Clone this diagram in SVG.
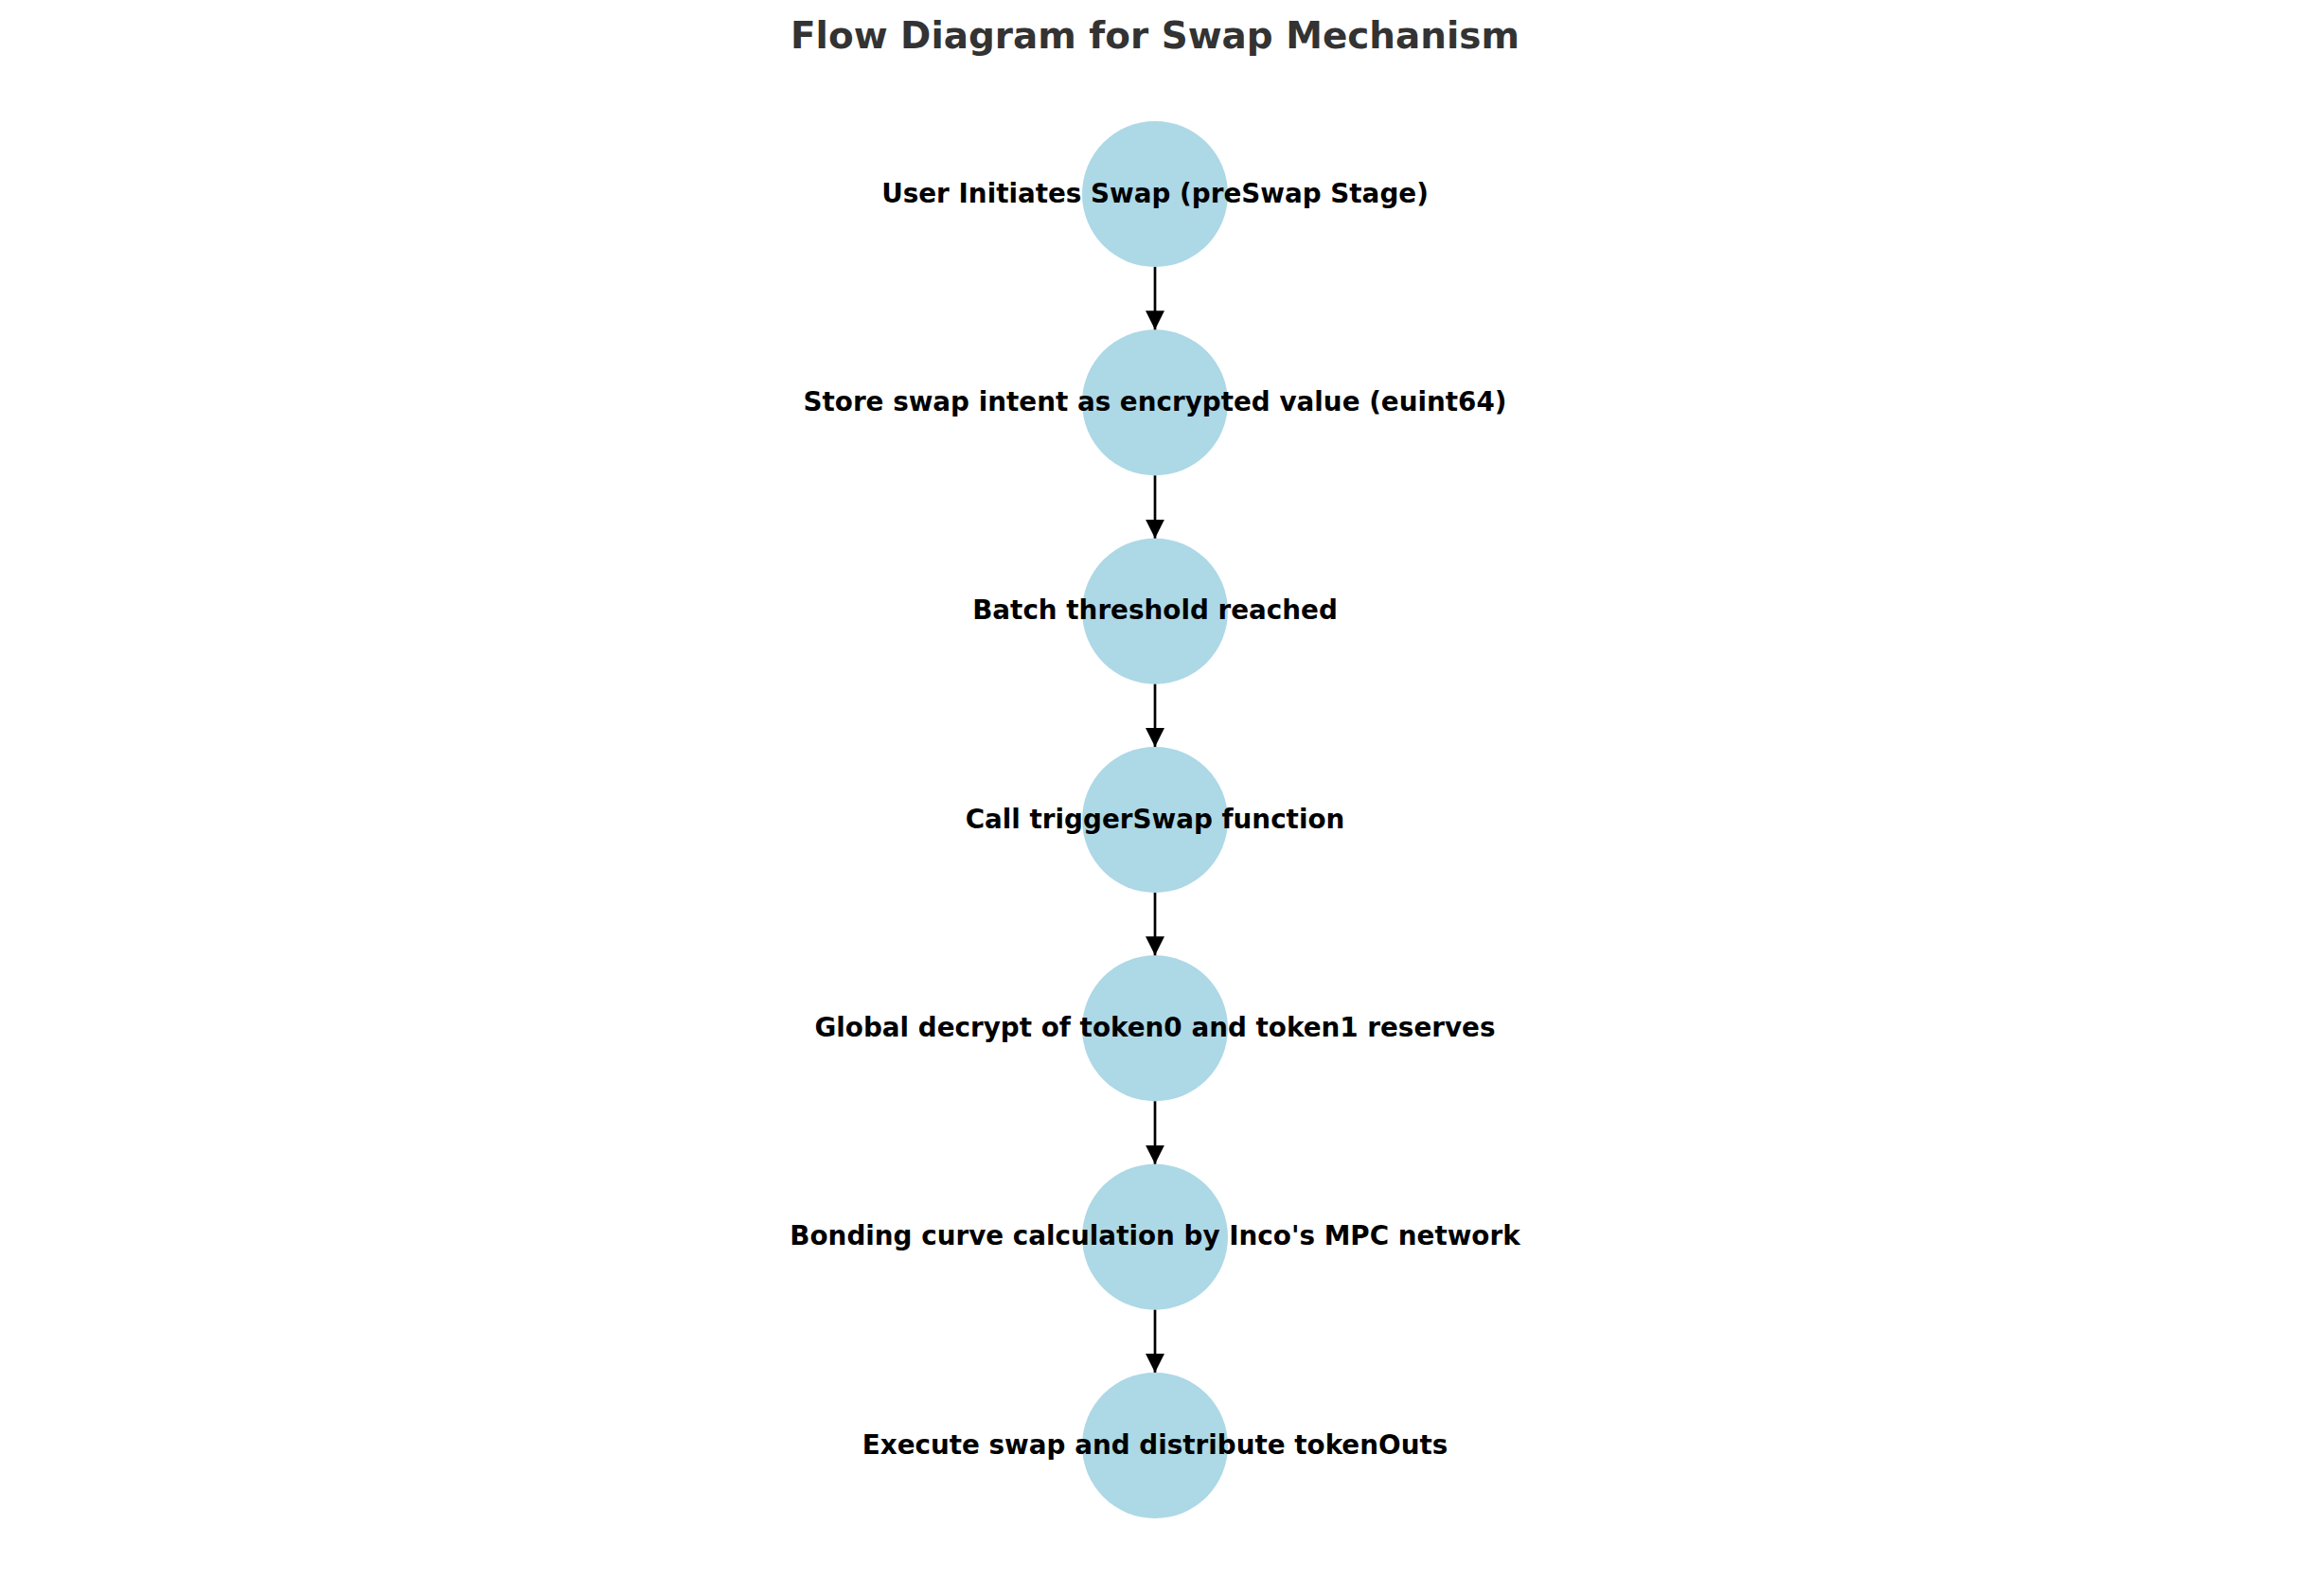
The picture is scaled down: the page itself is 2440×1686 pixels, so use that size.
<svg xmlns="http://www.w3.org/2000/svg" width="2440" height="1686" viewBox="0 0 2440 1686">
<style>
.node circle{fill:#ADD8E6;}
.node text{font-family:"DejaVu Sans",sans-serif;font-weight:bold;font-size:27.8px;fill:#000;text-anchor:middle;}
.title{font-family:"DejaVu Sans",sans-serif;font-weight:bold;font-size:38.9px;fill:#333333;text-anchor:middle;}
.edge{stroke:#000;stroke-width:2.7;fill:none;}
</style>
<defs>
<marker id="ah" markerUnits="userSpaceOnUse" markerWidth="20" markerHeight="20" refX="20" refY="10" orient="auto" viewBox="0 0 20 20">
<path d="M0,0 L20,10 L0,20 Z" fill="#000"/>
</marker>
</defs>
<rect width="2440" height="1686" fill="#fff"/>
<text class="title" x="1220" y="51">Flow Diagram for Swap Mechanism</text>
<g id="nodes-bg">
<g id="n1" class="node"><circle cx="1220" cy="205" r="77"/></g>
<g id="n2" class="node"><circle cx="1220" cy="425.3" r="77"/></g>
<g id="n3" class="node"><circle cx="1220" cy="645.7" r="77"/></g>
<g id="n4" class="node"><circle cx="1220" cy="866" r="77"/></g>
<g id="n5" class="node"><circle cx="1220" cy="1086.3" r="77"/></g>
<g id="n6" class="node"><circle cx="1220" cy="1306.7" r="77"/></g>
<g id="n7" class="node"><circle cx="1220" cy="1527" r="77"/></g>
</g>
<g id="connectors">
<line class="edge" x1="1220" y1="282" x2="1220" y2="348.3" marker-end="url(#ah)"/>
<line class="edge" x1="1220" y1="502.3" x2="1220" y2="568.7" marker-end="url(#ah)"/>
<line class="edge" x1="1220" y1="722.7" x2="1220" y2="789" marker-end="url(#ah)"/>
<line class="edge" x1="1220" y1="943" x2="1220" y2="1009.3" marker-end="url(#ah)"/>
<line class="edge" x1="1220" y1="1163.3" x2="1220" y2="1229.7" marker-end="url(#ah)"/>
<line class="edge" x1="1220" y1="1383.7" x2="1220" y2="1450" marker-end="url(#ah)"/>
</g>
<g id="labels">
<g id="n1-label" class="node"><text x="1220" y="213.5">User Initiates Swap (preSwap Stage)</text></g>
<g id="n2-label" class="node"><text x="1220" y="433.8">Store swap intent as encrypted value (euint64)</text></g>
<g id="n3-label" class="node"><text x="1220" y="654.2">Batch threshold reached</text></g>
<g id="n4-label" class="node"><text x="1220" y="874.5">Call triggerSwap function</text></g>
<g id="n5-label" class="node"><text x="1220" y="1094.8">Global decrypt of token0 and token1 reserves</text></g>
<g id="n6-label" class="node"><text x="1220" y="1315.2">Bonding curve calculation by Inco's MPC network</text></g>
<g id="n7-label" class="node"><text x="1220" y="1535.5">Execute swap and distribute tokenOuts</text></g>
</g>
</svg>
